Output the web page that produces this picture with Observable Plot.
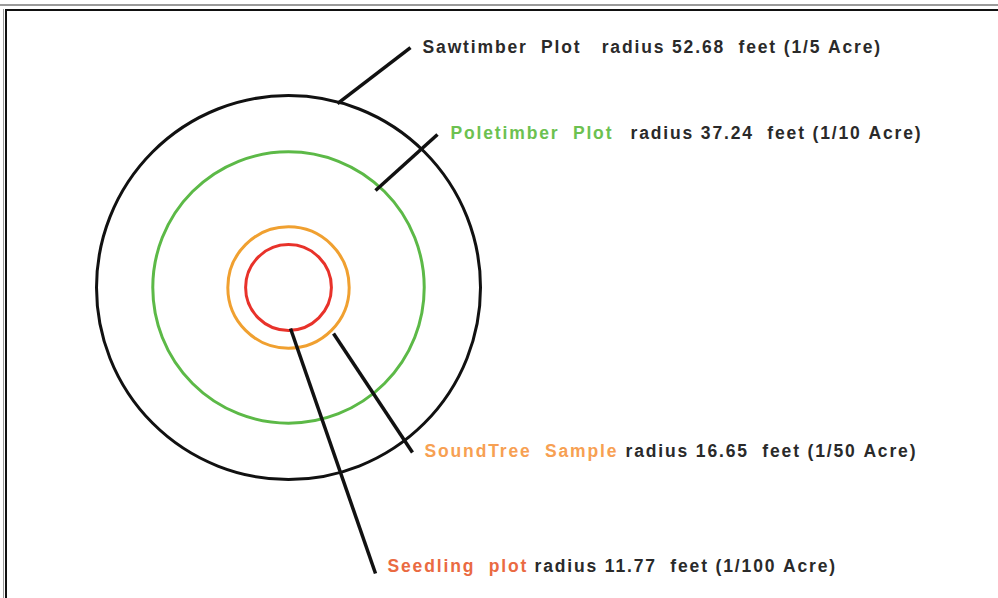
<!DOCTYPE html>
<html>
<head>
<meta charset="utf-8">
<script src="https://cdn.jsdelivr.net/npm/d3@7"></script>
<script src="https://cdn.jsdelivr.net/npm/@observablehq/plot@0.6"></script>
<style>
  html, body { margin: 0; padding: 0; background: #fff; }
  #wrap { position: relative; width: 998px; height: 598px; overflow: hidden; }
  #wrap svg { position: absolute; left: 0; top: 0; }
  .edge { position: absolute; }
</style>
</head>
<body>
<div id="wrap">
  <div class="edge" style="left:0;top:4px;width:998px;height:2px;background:#9a9a9a;"></div>
  <div class="edge" style="left:5px;top:9px;width:993px;height:2px;background:#111;"></div>
  <div class="edge" style="left:3px;top:9px;width:1px;height:589px;background:#9a9a9a;"></div>
  <div class="edge" style="left:5px;top:9px;width:2px;height:589px;background:#111;"></div>
</div>
<script>
// ---- data ----
const plotNames  = ["Sawtimber  Plot", "Poletimber  Plot", "SoundTree  Sample", "Seedling  plot"];
const radiiFeet  = [52.68, 37.24, 16.65, 11.77];
const acreLabels = ["1/5", "1/10", "1/50", "1/100"];
const ringColors = ["#111111", "#5cb947", "#f0a030", "#e8322a"];
const nameColors = ["#2a2a2a", "#6cc150", "#f7a052", "#ea6a42"];
const detailSpacer = ["   ", "", "", ""]; // Sawtimber detail follows its name in one black line

// leader line endpoints (feet from plot centre)
const leaderStartX = [13.44, 23.87, 12.35, 0.55];
const leaderStartY = [50.48, 26.61, -12.62, -11.25];
const leaderEndX   = [33.47, 40.88, 34.02, 23.87];
const leaderEndY   = [65.85, 41.98, -45.27, -78.47];

// label anchors (feet from plot centre)
const nameX   = [36.77, 44.45, 37.31, 27.16];
const detailX = [null, 93.84, 92.46, 67.50];
const labelY  = [65.85, 42.25, -45.0, -76.55];

// ---- build tables ----
const rings = radiiFeet.map((r, i) => ({r, color: ringColors[i]}));
const leaders = radiiFeet.map((r, i) => ({x1: leaderStartX[i], y1: leaderStartY[i], x2: leaderEndX[i], y2: leaderEndY[i]}));
const detail = (i) => `radius ${radiiFeet[i].toFixed(2)}  feet (${acreLabels[i]} Acre)`;
const names = plotNames.map((n, i) => ({
  x: nameX[i], y: labelY[i], color: nameColors[i],
  text: i === 0 ? n + detailSpacer[0] + detail(0) : n
}));
const details = radiiFeet.map((r, i) => ({x: detailX[i], y: labelY[i], text: detail(i)})).filter(d => d.x != null);
const nb = s => s.replace(/ /g, "\u00a0");

const font = {fontFamily: "'Liberation Sans', Arial, sans-serif", fontWeight: "bold", fontSize: 17.5};

const chart = Plot.plot({
  width: 998,
  height: 598,
  margin: 0,
  style: {background: "transparent", letterSpacing: "1.85px", overflow: "visible"},
  x: {domain: [-79.02, 194.80], axis: null},
  y: {domain: [-85.33, 78.75], axis: null},
  r: {type: "linear", domain: [0, 52.68], range: [0, 192]},
  marks: [
    Plot.dot(rings, {x: () => 0, y: () => 0, r: "r", stroke: d => d.color, fill: "none", strokeWidth: 3}),
    Plot.link(leaders, {x1: "x1", y1: "y1", x2: "x2", y2: "y2", stroke: "#111", strokeWidth: 3.5}),
    Plot.text(names, {x: "x", y: "y", text: d => nb(d.text), fill: d => d.color, textAnchor: "start", lineAnchor: "middle", ...font}),
    Plot.text(details, {x: "x", y: "y", text: d => nb(d.text), fill: "#2a2a2a", textAnchor: "start", lineAnchor: "middle", ...font})
  ]
});
document.getElementById("wrap").prepend(chart);
</script>
</body>
</html>
